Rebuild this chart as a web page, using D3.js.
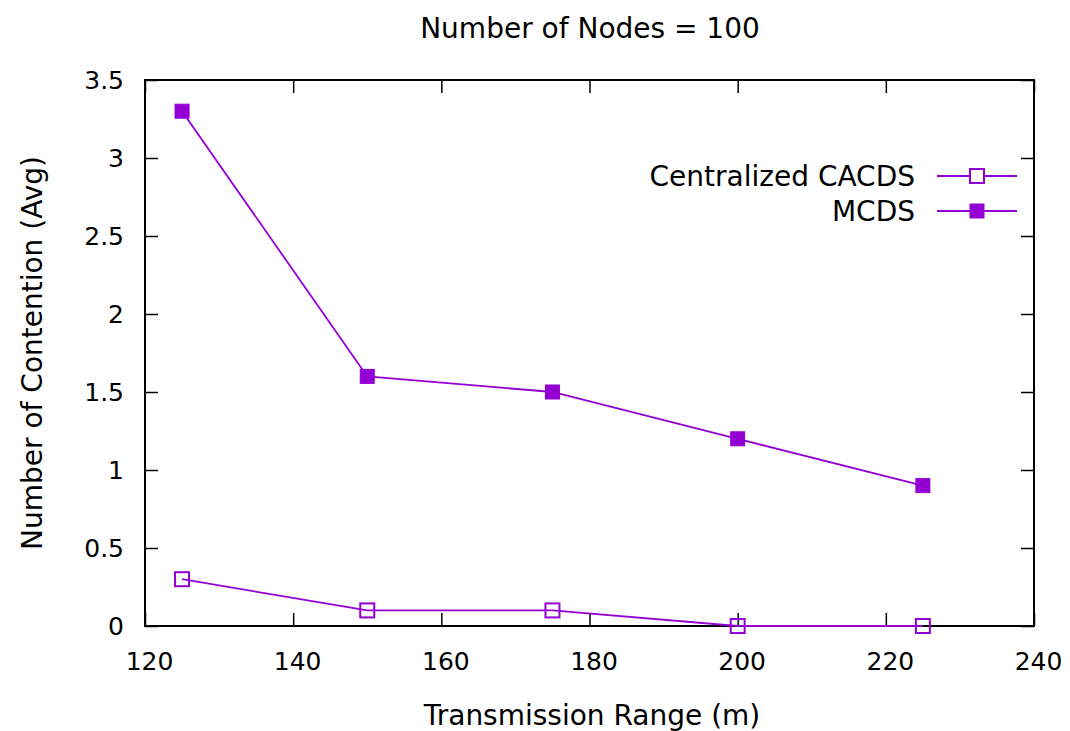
<!DOCTYPE html>
<html>
  <head>
    <meta charset="utf-8">
    <title>Number of Contention</title>
    <style>
      body { margin: 0; background: #fff; }
      text { font-family: "DejaVu Sans", Verdana, sans-serif; fill: #000; }
    </style>
  </head>
  <body>
    <div id="chart"></div>
    <script src="https://cdn.jsdelivr.net/npm/d3@7"></script>
    <script>

        var ranges = [125, 150, 175, 200, 225];
        var cacds = [0.3, 0.1, 0.1, 0, 0];
        var mcds = [3.3, 1.6, 1.5, 1.2, 0.9];
        var xTicks = [120, 140, 160, 180, 200, 220, 240];
        var yTicks = [0, 0.5, 1, 1.5, 2, 2.5, 3, 3.5];
        var seriesNames = ['Centralized CACDS', 'MCDS'];

        var width = 1070;
        var height = 731;
        var plotLeft = 145, plotRight = 1034, plotTop = 80, plotBottom = 626;
        var purple = '#9400d3';
        var tickLen = 13;
        var tickFont = '25px';
        var labelFont = '28px';

        var x = d3.scaleLinear().domain([120, 240]).range([plotLeft, plotRight]);
        var y = d3.scaleLinear().domain([0, 3.5]).range([plotBottom, plotTop]);

        var svg = d3.select('#chart')
          .append('svg')
          .attr('width', width)
          .attr('height', height);

        // axes, gnuplot style: ticks inward and mirrored
        svg.append('g')
          .attr('transform', 'translate(0,' + plotBottom + ')')
          .call(d3.axisBottom(x).tickValues(xTicks).tickSize(-tickLen).tickPadding(26).tickFormat(d3.format('d')))
          .call(function(g) {
            g.select('.domain').remove();
            g.selectAll('text').attr('dx', 4).style('font-size', tickFont).style('font-family', '"DejaVu Sans", Verdana, sans-serif');
          });
        svg.append('g')
          .attr('transform', 'translate(0,' + plotTop + ')')
          .call(d3.axisTop(x).tickValues(xTicks).tickSize(-tickLen).tickFormat(''))
          .call(function(g) { g.select('.domain').remove(); });
        svg.append('g')
          .attr('transform', 'translate(' + plotLeft + ',0)')
          .call(d3.axisLeft(y).tickValues(yTicks).tickSize(-tickLen).tickPadding(21).tickFormat(d3.format('')))
          .call(function(g) {
            g.select('.domain').remove();
            g.selectAll('text').style('font-size', tickFont).style('font-family', '"DejaVu Sans", Verdana, sans-serif');
          });
        svg.append('g')
          .attr('transform', 'translate(' + plotRight + ',0)')
          .call(d3.axisRight(y).tickValues(yTicks).tickSize(-tickLen).tickFormat(''))
          .call(function(g) { g.select('.domain').remove(); });

        svg.selectAll('.tick line').attr('stroke', '#000').attr('stroke-width', 1.5);

        svg.append('rect')
          .attr('x', plotLeft).attr('y', plotTop)
          .attr('width', plotRight - plotLeft).attr('height', plotBottom - plotTop)
          .attr('fill', 'none').attr('stroke', '#000').attr('stroke-width', 2);

        var line = d3.line()
          .x(function(d) { return x(d[0]); })
          .y(function(d) { return y(d[1]); });

        var series = [
          { name: seriesNames[0], values: cacds, filled: false },
          { name: seriesNames[1], values: mcds, filled: true }
        ];

        var ms = 14;
        series.forEach(function(s, i) {
          var pts = ranges.map(function(r, j) { return [r, s.values[j]]; });
          svg.append('path')
            .datum(pts)
            .attr('d', line)
            .attr('fill', 'none')
            .attr('stroke', purple)
            .attr('stroke-width', 1.8);
          svg.selectAll('.m' + i)
            .data(pts)
            .enter()
            .append('rect')
            .attr('x', function(d) { return x(d[0]) - ms / 2; })
            .attr('y', function(d) { return y(d[1]) - ms / 2; })
            .attr('width', ms).attr('height', ms)
            .attr('fill', s.filled ? purple : 'none')
            .attr('stroke', purple)
            .attr('stroke-width', s.filled ? 1 : 2);

          // legend
          var ly = 176 + i * 35;
          svg.append('text')
            .attr('x', 915).attr('y', ly)
            .attr('dy', '0.35em')
            .attr('text-anchor', 'end')
            .style('font-size', labelFont)
            .text(s.name);
          svg.append('line')
            .attr('x1', 937).attr('x2', 1017)
            .attr('y1', ly).attr('y2', ly)
            .attr('stroke', purple).attr('stroke-width', 1.8);
          svg.append('rect')
            .attr('x', 977 - ms / 2).attr('y', ly - ms / 2)
            .attr('width', ms).attr('height', ms)
            .attr('fill', s.filled ? purple : '#fff')
            .attr('stroke', purple)
            .attr('stroke-width', s.filled ? 1 : 2);
        });

        svg.append('text')
          .attr('x', 590).attr('y', 28).attr('dy', '0.35em')
          .attr('text-anchor', 'middle')
          .style('font-size', labelFont)
          .text('Number of Nodes = 100');

        svg.append('text')
          .attr('x', 592).attr('y', 715).attr('dy', '0.35em')
          .attr('text-anchor', 'middle')
          .style('font-size', labelFont)
          .text('Transmission Range (m)');

        svg.append('text')
          .attr('transform', 'translate(32,' + (plotTop + plotBottom) / 2 + ') rotate(-90)')
          .attr('dy', '0.35em')
          .attr('text-anchor', 'middle')
          .style('font-size', labelFont)
          .text('Number of Contention (Avg)');
    </script>
  </body>
</html>
